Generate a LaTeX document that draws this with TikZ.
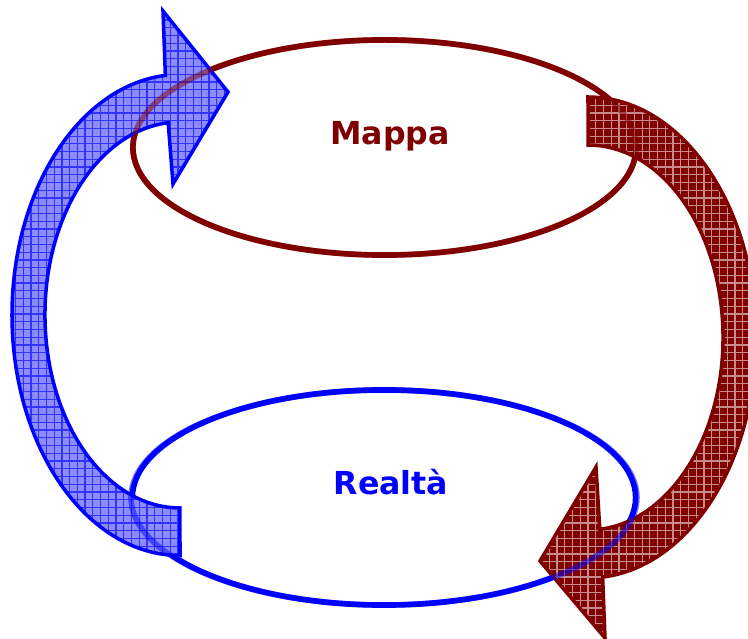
\documentclass[tikz,border=0pt]{standalone}
\usepackage{fontspec}
\setmainfont{DejaVu Sans}
\usetikzlibrary{shapes.geometric,patterns}
\definecolor{mapred}{HTML}{800000}
\definecolor{realblue}{HTML}{0000FF}

% fine mesh used inside the block arrows
\pgfdeclarepatternformonly{finegrid}{\pgfqpoint{-1pt}{-1pt}}{\pgfqpoint{3pt}{3pt}}{\pgfqpoint{2.2pt}{2.2pt}}{
  \pgfsetlinewidth{0.35pt}
  \pgfpathmoveto{\pgfqpoint{0pt}{0pt}}\pgfpathlineto{\pgfqpoint{2.3pt}{0pt}}
  \pgfpathmoveto{\pgfqpoint{0pt}{0pt}}\pgfpathlineto{\pgfqpoint{0pt}{2.3pt}}
  \pgfusepath{stroke}}

\begin{document}
\begin{tikzpicture}[x=0.01cm,y=0.01cm,
  ring/.style={ellipse, minimum width=5.03cm, minimum height=2.15cm, inner sep=0pt, line width=1.6pt},
  tag/.style={anchor=base, font=\bfseries\fontsize{9}{11}\selectfont},
  bluearrow/.style={draw=realblue, line width=1pt, preaction={fill=realblue!45}, pattern=finegrid, pattern color=realblue!80},
  redarrow/.style={draw=mapred, line width=1pt, preaction={fill=mapred}, pattern=finegrid, pattern color=mapred!45!white}]
  \useasboundingbox (0,0) rectangle (748,639);

  \node[ring, draw=mapred] (mappa) at (384.5,491.5) {};
  \node[ring, draw=realblue] (realta) at (384,141.5) {};
  \node[tag, text=mapred] (mappatxt) at (390,494) {Mappa};
  \node[tag, text=realblue] (realtatxt) at (391,144) {Realtà};

  % left arrow, up from Realta to Mappa
  \draw[bluearrow] (180,83.5) arc[start angle=270, end angle=95, x radius=168, y radius=240.5]
    -- (163,628) -- (228,547) -- (173,455) -- (168.2,516.3)
    arc[start angle=95, end angle=270, x radius=135, y radius=193] -- cycle;

  % right arrow, down from Mappa to Realta
  \draw[redarrow] (588,542) arc[start angle=90, end angle=-85, x radius=168, y radius=240.5]
    -- (605,1) -- (540,78) -- (596,172) -- (599.8,109.7)
    arc[start angle=-85, end angle=90, x radius=135, y radius=192.5] -- cycle;

  % the rings show faintly through the arrows
  \draw[mapred, line width=1.6pt, opacity=0.5] (mappa.center) ellipse [x radius=251.5, y radius=107.5];
  \draw[realblue, line width=1.6pt, opacity=0.5] (realta.center) ellipse [x radius=253, y radius=107.5];
\end{tikzpicture}
\end{document}
